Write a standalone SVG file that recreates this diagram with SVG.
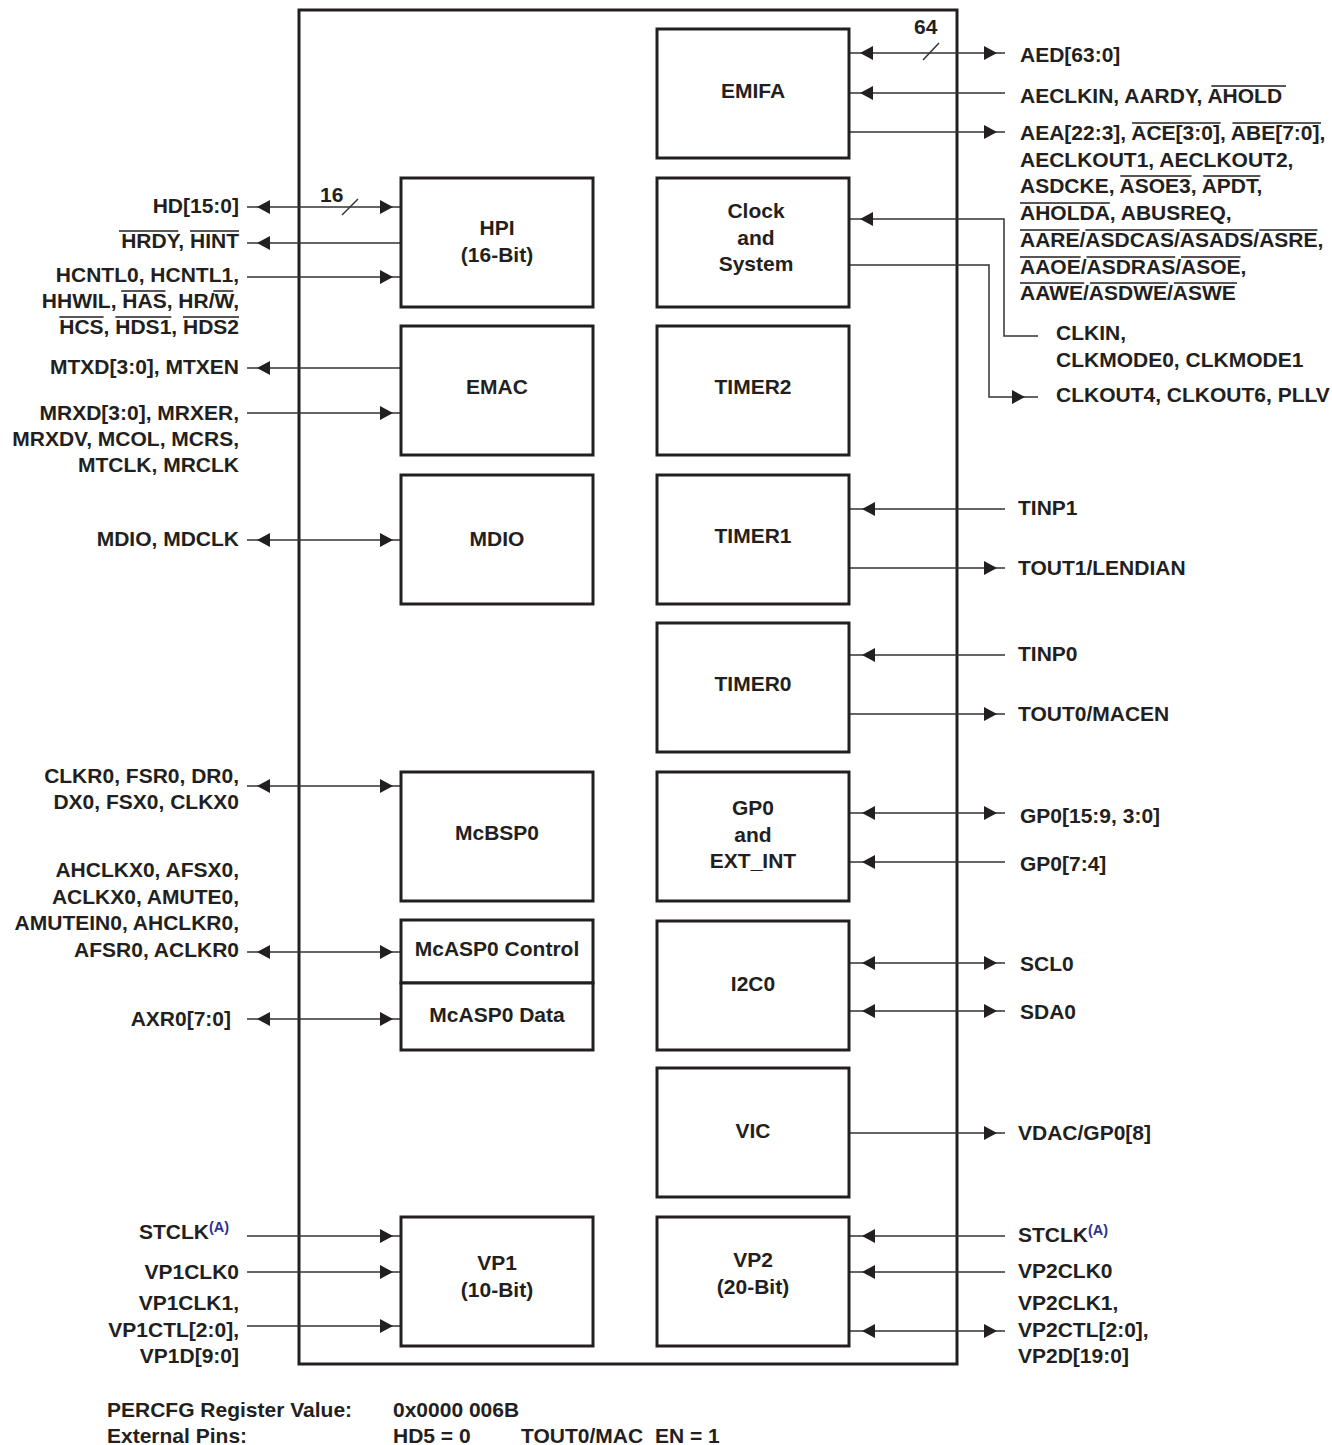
<svg xmlns="http://www.w3.org/2000/svg" xmlns:xlink="http://www.w3.org/1999/xlink" width="1332" height="1445" viewBox="0 0 1332 1445">
<style>
text{font-family:"Liberation Sans",Arial,sans-serif;font-weight:bold;font-size:21px;fill:#231f20}
.c{text-anchor:middle}
.e{text-anchor:end}
.sup{font-size:14.5px;fill:#2e3192}
.box{fill:#fff;stroke:#231f20;stroke-width:3}
.ln{fill:none;stroke:#333;stroke-width:1.5}
.ovl{fill:none;stroke:#231f20;stroke-width:1.5}
.ah{fill:#231f20}
</style>
<defs>
<path id="ar" class="ah" d="M0,0 L-13,-7 L-13,7Z"/>
<path id="al" class="ah" d="M0,0 L13,-7 L13,7Z"/>
</defs>
<rect x="299" y="10" width="658" height="1354" fill="none" stroke="#231f20" stroke-width="3"/>
<g id="connectors">
<path class="ln" d="M247,207H401M247,243H401M247,277H401M247,368H401M247,413H401M247,540H401M247,786H401M247,952H401M247,1019H401M247,1236H401M247,1272H401M247,1326H401"/>
<use href="#al" x="257" y="207"/><use href="#ar" x="393" y="207"/>
<path class="ln" d="M342,215L358,199"/>
<text x="320" y="202">16</text>
<use href="#al" x="257" y="243"/>
<use href="#ar" x="393" y="277"/>
<use href="#al" x="257" y="368"/>
<use href="#ar" x="393" y="413"/>
<use href="#al" x="257" y="540"/><use href="#ar" x="393" y="540"/>
<use href="#al" x="257" y="786"/><use href="#ar" x="393" y="786"/>
<use href="#al" x="257" y="952"/><use href="#ar" x="393" y="952"/>
<use href="#al" x="257" y="1019"/><use href="#ar" x="393" y="1019"/>
<use href="#ar" x="393" y="1236"/>
<use href="#ar" x="393" y="1272"/>
<use href="#ar" x="393" y="1326"/>
<path class="ln" d="M849,53H1005M849,93H1005M849,132H1005M849,219H1004V336H1038M849,265H989V397H1038M849,509H1005M849,568H1005M849,655H1005M849,714H1005M849,813H1005M849,862H1005M849,963H1005M849,1011H1005M849,1133H1005M849,1236H1005M849,1272H1005M849,1331H1005"/>
<use href="#al" x="860" y="53"/><use href="#ar" x="997" y="53"/>
<path class="ln" d="M923,60L939,43"/>
<text x="914" y="34">64</text>
<use href="#al" x="860" y="93"/>
<use href="#ar" x="997" y="132"/>
<use href="#al" x="860" y="219"/>
<use href="#ar" x="1025" y="397"/>
<use href="#al" x="862" y="509"/>
<use href="#ar" x="997" y="568"/>
<use href="#al" x="862" y="655"/>
<use href="#ar" x="997" y="714"/>
<use href="#al" x="862" y="813"/><use href="#ar" x="997" y="813"/>
<use href="#al" x="862" y="862"/>
<use href="#al" x="862" y="963"/><use href="#ar" x="997" y="963"/>
<use href="#al" x="862" y="1011"/><use href="#ar" x="997" y="1011"/>
<use href="#ar" x="997" y="1133"/>
<use href="#al" x="862" y="1236"/>
<use href="#al" x="862" y="1272"/>
<use href="#al" x="862" y="1331"/><use href="#ar" x="997" y="1331"/>
</g>
<g id="emifa"><rect class="box" x="657" y="29" width="192" height="129"/><text class="c" x="753" y="98">EMIFA</text></g>
<g id="clock"><rect class="box" x="657" y="178" width="192" height="129"/><text class="c" x="756" y="218">Clock</text><text class="c" x="756" y="245">and</text><text class="c" x="756" y="271">System</text></g>
<g id="timer2"><rect class="box" x="657" y="326" width="192" height="129"/><text class="c" x="753" y="394">TIMER2</text></g>
<g id="timer1"><rect class="box" x="657" y="475" width="192" height="129"/><text class="c" x="753" y="543">TIMER1</text></g>
<g id="timer0"><rect class="box" x="657" y="623" width="192" height="129"/><text class="c" x="753" y="691">TIMER0</text></g>
<g id="gp0"><rect class="box" x="657" y="772" width="192" height="129"/><text class="c" x="753" y="815">GP0</text><text class="c" x="753" y="842">and</text><text class="c" x="753" y="868">EXT_INT</text></g>
<g id="i2c0"><rect class="box" x="657" y="921" width="192" height="129"/><text class="c" x="753" y="991">I2C0</text></g>
<g id="vic"><rect class="box" x="657" y="1068" width="192" height="129"/><text class="c" x="753" y="1138">VIC</text></g>
<g id="vp2"><rect class="box" x="657" y="1217" width="192" height="129"/><text class="c" x="753" y="1267">VP2</text><text class="c" x="753" y="1294">(20-Bit)</text></g>
<g id="hpi"><rect class="box" x="401" y="178" width="192" height="129"/><text class="c" x="497" y="235">HPI</text><text class="c" x="497" y="262">(16-Bit)</text></g>
<g id="emac"><rect class="box" x="401" y="326" width="192" height="129"/><text class="c" x="497" y="394">EMAC</text></g>
<g id="mdio"><rect class="box" x="401" y="475" width="192" height="129"/><text class="c" x="497" y="546">MDIO</text></g>
<g id="mcbsp0"><rect class="box" x="401" y="772" width="192" height="129"/><text class="c" x="497" y="840">McBSP0</text></g>
<g id="mcasp0ctl"><rect class="box" x="401" y="920" width="192" height="63"/><text class="c" x="497" y="956">McASP0 Control</text></g>
<g id="mcasp0data"><rect class="box" x="401" y="983" width="192" height="67"/><text class="c" x="497" y="1022">McASP0 Data</text></g>
<g id="vp1"><rect class="box" x="401" y="1217" width="192" height="129"/><text class="c" x="497" y="1270">VP1</text><text class="c" x="497" y="1297">(10-Bit)</text></g>
<g id="left-labels">
<text class="e" x="239" y="213">HD[15:0]</text>
<text class="e" x="239" y="248">HRDY, HINT</text>
<text class="e" x="239" y="282">HCNTL0, HCNTL1,</text>
<text class="e" x="239" y="308">HHWIL, HAS, HR/W,</text>
<text class="e" x="239" y="334">HCS, HDS1, HDS2</text>
<path class="ovl" d="M119,231H178.3M190,231H239M121.2,291H165.5M213.3,291H233.2M59.3,317H103.6M115.3,317H171.3M183,317H239"/>
<text class="e" x="239" y="374">MTXD[3:0], MTXEN</text>
<text class="e" x="239" y="420">MRXD[3:0], MRXER,</text>
<text class="e" x="239" y="446">MRXDV, MCOL, MCRS,</text>
<text class="e" x="239" y="472">MTCLK, MRCLK</text>
<text class="e" x="239" y="546">MDIO, MDCLK</text>
<text class="e" x="239" y="783">CLKR0, FSR0, DR0,</text>
<text class="e" x="239" y="809">DX0, FSX0, CLKX0</text>
<text class="e" x="239" y="877">AHCLKX0, AFSX0,</text>
<text class="e" x="239" y="904">ACLKX0, AMUTE0,</text>
<text class="e" x="239" y="930">AMUTEIN0, AHCLKR0,</text>
<text class="e" x="239" y="957">AFSR0, ACLKR0</text>
<text class="e" x="231" y="1026">AXR0[7:0]</text>
<text x="139" y="1239">STCLK<tspan class="sup" dy="-7">(A)</tspan></text>
<text class="e" x="239" y="1279">VP1CLK0</text>
<text class="e" x="239" y="1310">VP1CLK1,</text>
<text class="e" x="239" y="1337">VP1CTL[2:0],</text>
<text class="e" x="239" y="1363">VP1D[9:0]</text>
</g>
<g id="right-labels">
<text x="1020" y="62">AED[63:0]</text>
<text x="1020" y="103">AECLKIN, AARDY, AHOLD</text>
<text x="1020" y="140">AEA[22:3], ACE[3:0], ABE[7:0],</text>
<text x="1020" y="167">AECLKOUT1, AECLKOUT2,</text>
<text x="1020" y="193">ASDCKE, ASOE3, APDT,</text>
<text x="1020" y="220">AHOLDA, ABUSREQ,</text>
<text x="1020" y="247">AARE/ASDCAS/ASADS/ASRE,</text>
<text x="1020" y="274">AAOE/ASDRAS/ASOE,</text>
<text x="1020" y="300">AAWE/ASDWE/ASWE</text>
<path class="ovl" d="M1211.3,86H1286M1132,123H1220.7M1232.4,123H1321M1120.3,176H1191.5M1203.2,176H1260.4M1020,203H1109.8M1020,230H1079.5M1085.3,230H1174M1179.8,230H1253.3M1259.2,230H1317.5M1020,257H1080.7M1086.5,257H1175.2M1181,257H1240.5M1020,283H1084.2M1090,283H1168.2M1174,283H1237"/>
<text x="1056" y="340">CLKIN,</text>
<text x="1056" y="367">CLKMODE0, CLKMODE1</text>
<text x="1056" y="402">CLKOUT4, CLKOUT6, PLLV</text>
<text x="1018" y="515">TINP1</text>
<text x="1018" y="575">TOUT1/LENDIAN</text>
<text x="1018" y="661">TINP0</text>
<text x="1018" y="721">TOUT0/MACEN</text>
<text x="1020" y="823">GP0[15:9, 3:0]</text>
<text x="1020" y="871">GP0[7:4]</text>
<text x="1020" y="971">SCL0</text>
<text x="1020" y="1019">SDA0</text>
<text x="1018" y="1140">VDAC/GP0[8]</text>
<text x="1018" y="1242">STCLK<tspan class="sup" dy="-7">(A)</tspan></text>
<text x="1018" y="1278">VP2CLK0</text>
<text x="1018" y="1310">VP2CLK1,</text>
<text x="1018" y="1337">VP2CTL[2:0],</text>
<text x="1018" y="1363">VP2D[19:0]</text>
</g>
<g id="footer">
<text x="107" y="1417">PERCFG Register Value:</text>
<text x="393" y="1417">0x0000 006B</text>
<text x="107" y="1443">External Pins:</text>
<text x="393" y="1443">HD5 = 0</text>
<text x="521" y="1443">TOUT0/MAC</text>
<text x="655" y="1443">EN = 1</text>
</g>
</svg>
